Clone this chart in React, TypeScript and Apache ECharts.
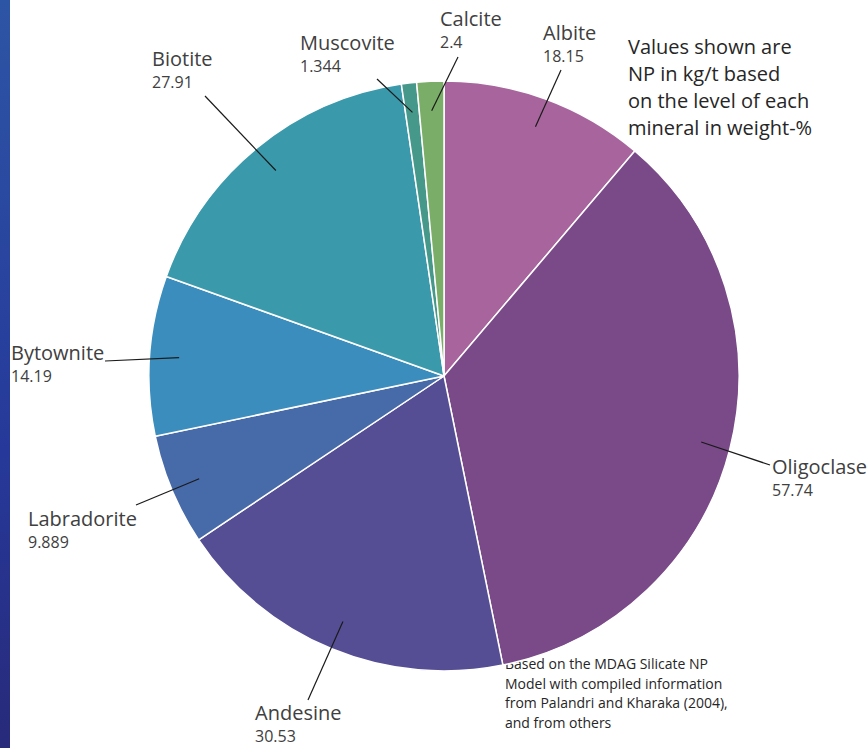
import React, { useEffect, useRef } from "react";
import * as echarts from "echarts";

const minerals = ["Albite", "Oligoclase", "Andesine", "Labradorite", "Bytownite", "Biotite", "Muscovite", "Calcite"];
const npValues = [18.15, 57.74, 30.53, 9.889, 14.19, 27.91, 1.344, 2.4];
const sliceColors = ["#a8659d", "#7a4a88", "#564e94", "#476aa8", "#3a8dbd", "#3a9aac", "#46998a", "#7aae68"];
// label box top-left positions and label-line outer end points
const labelPos = [[543, 18], [772, 452], [255, 698], [28, 504], [11, 338], [152, 44], [300, 28], [440, 4]];
const lineEnds = [[561, 70], [770, 465], [308, 700], [136, 505], [105, 361], [205, 96], [377, 79], [458, 57]];
const noteTop = "Values shown are\nNP in kg/t based\non the level of each\nmineral in weight-%";
const noteBottom = "Based on the MDAG Silicate NP\nModel with compiled information\nfrom Palandri and Kharaka (2004),\nand from others";

const CX = 444, CY = 376, R = 295;
const FONT = "'Open Sans', 'Noto Sans', sans-serif";

export default function App() {
  const ref = useRef<HTMLDivElement>(null);
  useEffect(() => {
    const chart = echarts.init(ref.current!, null, { renderer: "svg" });
    const total = npValues.reduce((a, b) => a + b, 0);
    const mids: number[] = [];
    let acc = 0;
    npValues.forEach((v) => {
      mids.push(((acc + v / 2) / total) * 2 * Math.PI);
      acc += v;
    });
    const baseData = minerals.map((m, i) => ({
      name: m,
      value: npValues[i],
      itemStyle: { color: sliceColors[i] },
    }));
    const overlayData = minerals.map((m, i) => ({
      name: m,
      value: npValues[i],
      itemStyle: { color: "rgba(0,0,0,0)", borderWidth: 0 },
    }));
    chart.setOption({
      animation: false,
      backgroundColor: "#ffffff",
      graphic: [
        {
          type: "rect",
          shape: { x: 0, y: 0, width: 10, height: 748 },
          style: {
            fill: new echarts.graphic.LinearGradient(0, 0, 0, 1, [
              { offset: 0, color: "#2d55a5" },
              { offset: 0.6, color: "#26399a" },
              { offset: 1, color: "#282a7a" },
            ]),
          },
        },
        {
          type: "text",
          x: 628,
          y: 33,
          style: { text: noteTop, font: `20px ${FONT}`, fill: "#262626", lineHeight: 27 },
        },
        {
          type: "text",
          x: 505,
          y: 654,
          style: { text: noteBottom, font: `14px ${FONT}`, fill: "#262626", lineHeight: 19.5 },
        },
      ],
      series: [
        {
          type: "pie",
          z: 2,
          center: [CX, CY],
          radius: R,
          startAngle: 90,
          clockwise: true,
          silent: true,
          itemStyle: { borderColor: "#ffffff", borderWidth: 1.5 },
          label: { show: false },
          labelLine: { show: false },
          data: baseData,
        },
        {
          type: "pie",
          z: 5,
          center: [CX, CY],
          radius: R,
          startAngle: 90,
          clockwise: true,
          silent: true,
          avoidLabelOverlap: false,
          label: {
            show: true,
            position: "outside",
            formatter: "{n|{b}}\n{v|{c}}",
            color: "#404040",
            rich: {
              n: { fontSize: 20, fontFamily: FONT, color: "#404040", lineHeight: 28 },
              v: { fontSize: 16, fontFamily: FONT, color: "#404040", lineHeight: 20 },
            },
          },
          labelLine: { show: true, length: 10, length2: 10, lineStyle: { color: "#1a1a1a", width: 1.2 } },
          labelLayout: (params: any) => {
            const i = params.dataIndex;
            const a = mids[i];
            const inner = [CX + 0.9 * R * Math.sin(a), CY - 0.9 * R * Math.cos(a)];
            return {
              x: labelPos[i][0],
              y: labelPos[i][1],
              align: "left",
              verticalAlign: "top",
              labelLinePoints: [inner, lineEnds[i], lineEnds[i]],
            };
          },
          data: overlayData,
        },
      ],
    });
    return () => chart.dispose();
  }, []);
  return <div ref={ref} style={{ position: "absolute", left: 0, top: 0, width: 867, height: 748 }} />;
}
